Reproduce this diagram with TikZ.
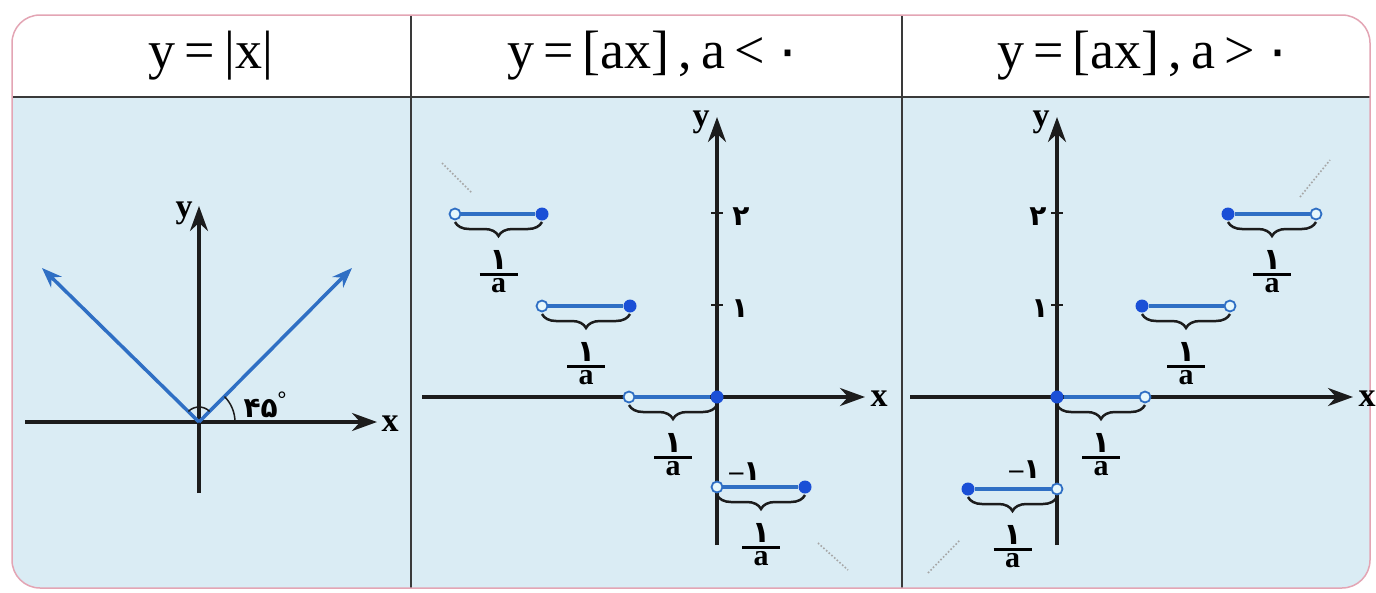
\documentclass[tikz,border=0pt]{standalone}
\usepackage{fontspec}
\setmainfont{Liberation Serif}
\newfontfamily\fa[Script=Arabic]{DejaVu Sans}
\usetikzlibrary{arrows.meta,decorations.pathreplacing,calc}
\definecolor{bodybg}{HTML}{DAECF4}
\definecolor{segblue}{HTML}{2F6FC4}
\definecolor{dotblue}{HTML}{1A4FD6}
\definecolor{openfill}{HTML}{E6F7FC}
\definecolor{framepink}{HTML}{E3A5B4}
\definecolor{axisc}{HTML}{1C1C1C}
\definecolor{rulec}{HTML}{3A3A3A}
\newcommand\oneovera{\vbox{\hbox to 38pt{\hss\fontsize{30}{30}\fa\bfseries ۱\hss}\kern4pt\hrule height 2.6pt\kern3pt\hbox to 38pt{\hss\fontsize{30}{30}\bfseries a\hss}}}
\tikzset{
  axisline/.style={line width=3.5pt, draw=axisc, -{Stealth[length=25pt,width=18pt]}},
  seg/.style={line width=3.5pt, draw=segblue},
  opendot/.style={circle, draw=segblue, fill=openfill, line width=1.8pt, minimum size=11pt, inner sep=0pt},
  fulldot/.style={circle, fill=dotblue, minimum size=13pt, inner sep=0pt},
  bracesty/.style={decorate, decoration={brace, amplitude=14pt, mirror}, line width=2.5pt, draw=axisc},
  axlabel/.style={font=\bfseries\fontsize{34}{36}\selectfont, inner sep=0pt},
  numlabel/.style={font=\fa\bfseries\fontsize{28}{30}\selectfont, inner sep=0pt},
  fraclabel/.style={inner sep=0pt, anchor=north},
  title/.style={font=\fontsize{54}{60}\selectfont, inner sep=0pt},
  tick/.style={line width=2pt, draw=axisc},
  dotline/.style={dotted, line width=1.6pt, draw=gray!70},
  bluearrow/.style={line width=3.5pt, draw=segblue, -{Stealth[length=20pt,width=15pt]}}
}
\begin{document}
\begin{tikzpicture}[x=1pt,y=-1pt]
\path[use as bounding box] (0,0) rectangle (1376,592);
% frame
\begin{scope}
\clip[rounded corners=28pt] (12,15) rectangle (1370,588);
\fill[white] (12,15) rectangle (1370,97);
\fill[bodybg] (12,97) rectangle (1370,588);
\end{scope}
\draw[rulec, line width=2.5pt] (12,97) -- (1370,97);
\draw[rulec, line width=2pt] (411,15) -- (411,588);
\draw[rulec, line width=2pt] (902,15) -- (902,588);
\draw[framepink, line width=1.5pt, rounded corners=28pt] (12,15) rectangle (1370,588);
% titles
\node[title] (t1) at (211,56) {y\,=\,|x|};
\node[title] (t2) at (655,56) {y\,=\,[ax]\,,\,a\,<\,{\fa ۰}};
\node[title] (t3) at (1145,56) {y\,=\,[ax]\,,\,a\,>\,{\fa ۰}};

% ---------- panel 1 ----------
\coordinate (o1) at (199,422);
\coordinate (x1a) at (25,422);
\coordinate (x1b) at (377,422);
\coordinate (y1a) at (199,493);
\coordinate (y1b) at (199,206);
\draw[axisline] (x1a) -- (x1b);
\draw[axisline] (y1a) -- (y1b);
\node[axlabel] (xl1) at (390,424) {x};
\node[axlabel] (yl1) at (184,213) {y};
\coordinate (l1) at (42,268);
\coordinate (r1) at (352,268);
\draw[bluearrow] (o1) -- (l1);
\draw[bluearrow] (o1) -- (r1);
\draw[line width=1.5pt, draw=axisc] (o1) ++(36,0) arc[start angle=0, end angle=-45, radius=36];
\draw[line width=1.5pt, draw=axisc] (o1) ++(-45:15) arc[start angle=-45, end angle=-135, radius=15];
\node[numlabel] (ang) at (265,405) {۴۵\raisebox{11pt}{\rmfamily\fontsize{22}{22}\selectfont°}};

% ---------- panel 2 (a<0) ----------
\coordinate (o2) at (717,397);
\coordinate (x2a) at (422,397);
\coordinate (x2b) at (865,397);
\coordinate (y2a) at (717,545);
\coordinate (y2b) at (717,117);
\draw[axisline] (x2a) -- (x2b);
\draw[axisline] (y2a) -- (y2b);
\node[axlabel] (xl2) at (879,399) {x};
\node[axlabel] (yl2) at (701,122) {y};
\coordinate (t2a) at (711,213); \coordinate (t2b) at (723,213);
\coordinate (t2c) at (711,305); \coordinate (t2d) at (723,305);
\draw[tick] (t2a) -- (t2b);
\draw[tick] (t2c) -- (t2d);
\node[numlabel] (n2two) at (741,217) {۲};
\node[numlabel] (n2one) at (740,309) {۱};
\node[numlabel] (n2m) at (745,472) {{\rmfamily –}۱};
% segments
\node[opendot] (pa1) at (455,214) {}; \node[fulldot] (pa2) at (542,214) {};
\node[opendot] (pb1) at (542,306) {}; \node[fulldot] (pb2) at (630,306) {};
\node[opendot] (pc1) at (629,397) {}; \node[fulldot] (pc2) at (717,397) {};
\node[opendot] (pd1) at (717,487) {}; \node[fulldot] (pd2) at (805,487) {};
\draw[seg] (pa1) -- (pa2);
\draw[seg] (pb1) -- (pb2);
\draw[seg] (pc1) -- (pc2);
\draw[seg] (pd1) -- (pd2);
\draw[bracesty] ([yshift=-8pt]pa1.center) -- ([yshift=-8pt]pa2.center);
\draw[bracesty] ([yshift=-8pt]pb1.center) -- ([yshift=-8pt]pb2.center);
\draw[bracesty] ([yshift=-8pt]pc1.center) -- ([yshift=-8pt]pc2.center);
\draw[bracesty] ([yshift=-8pt]pd1.center) -- ([yshift=-8pt]pd2.center);
\node[fraclabel] (fa) at ($(pa1)!0.5!(pa2)+(0,36)$) {\oneovera};
\node[fraclabel] (fb) at ($(pb1)!0.5!(pb2)+(0,36)$) {\oneovera};
\node[fraclabel] (fc) at ($(pc1)!0.5!(pc2)+(0,36)$) {\oneovera};
\node[fraclabel] (fd) at ($(pd1)!0.5!(pd2)+(0,36)$) {\oneovera};
\coordinate (d2a) at (442,163); \coordinate (d2b) at (472,193);
\coordinate (d2c) at (818,543); \coordinate (d2d) at (848,570);
\draw[dotline] (d2a) -- (d2b);
\draw[dotline] (d2c) -- (d2d);

% ---------- panel 3 (a>0) ----------
\coordinate (o3) at (1057,397);
\coordinate (x3a) at (910,397);
\coordinate (x3b) at (1353,397);
\coordinate (y3a) at (1057,545);
\coordinate (y3b) at (1057,117);
\draw[axisline] (x3a) -- (x3b);
\draw[axisline] (y3a) -- (y3b);
\node[axlabel] (xl3) at (1367,399) {x};
\node[axlabel] (yl3) at (1041,122) {y};
\coordinate (t3a) at (1051,213); \coordinate (t3b) at (1063,213);
\coordinate (t3c) at (1051,305); \coordinate (t3d) at (1063,305);
\draw[tick] (t3a) -- (t3b);
\draw[tick] (t3c) -- (t3d);
\node[numlabel] (n3two) at (1038,217) {۲};
\node[numlabel] (n3one) at (1040,309) {۱};
\node[numlabel] (n3m) at (1025,470) {{\rmfamily –}۱};
\node[fulldot] (qa1) at (1228,214) {}; \node[opendot] (qa2) at (1316,214) {};
\node[fulldot] (qb1) at (1142,306) {}; \node[opendot] (qb2) at (1230,306) {};
\node[fulldot] (qc1) at (1057,397) {}; \node[opendot] (qc2) at (1145,397) {};
\node[fulldot] (qd1) at (968,489) {}; \node[opendot] (qd2) at (1057,489) {};
\draw[seg] (qa1) -- (qa2);
\draw[seg] (qb1) -- (qb2);
\draw[seg] (qc1) -- (qc2);
\draw[seg] (qd1) -- (qd2);
\draw[bracesty] ([yshift=-8pt]qa1.center) -- ([yshift=-8pt]qa2.center);
\draw[bracesty] ([yshift=-8pt]qb1.center) -- ([yshift=-8pt]qb2.center);
\draw[bracesty] ([yshift=-8pt]qc1.center) -- ([yshift=-8pt]qc2.center);
\draw[bracesty] ([yshift=-8pt]qd1.center) -- ([yshift=-8pt]qd2.center);
\node[fraclabel] (ga) at ($(qa1)!0.5!(qa2)+(0,36)$) {\oneovera};
\node[fraclabel] (gb) at ($(qb1)!0.5!(qb2)+(0,36)$) {\oneovera};
\node[fraclabel] (gc) at ($(qc1)!0.5!(qc2)+(0,36)$) {\oneovera};
\node[fraclabel] (gd) at ($(qd1)!0.5!(qd2)+(0,36)$) {\oneovera};
\coordinate (d3a) at (1300,197); \coordinate (d3b) at (1330,160);
\coordinate (d3c) at (928,573); \coordinate (d3d) at (960,540);
\draw[dotline] (d3a) -- (d3b);
\draw[dotline] (d3c) -- (d3d);
\end{tikzpicture}
\end{document}
